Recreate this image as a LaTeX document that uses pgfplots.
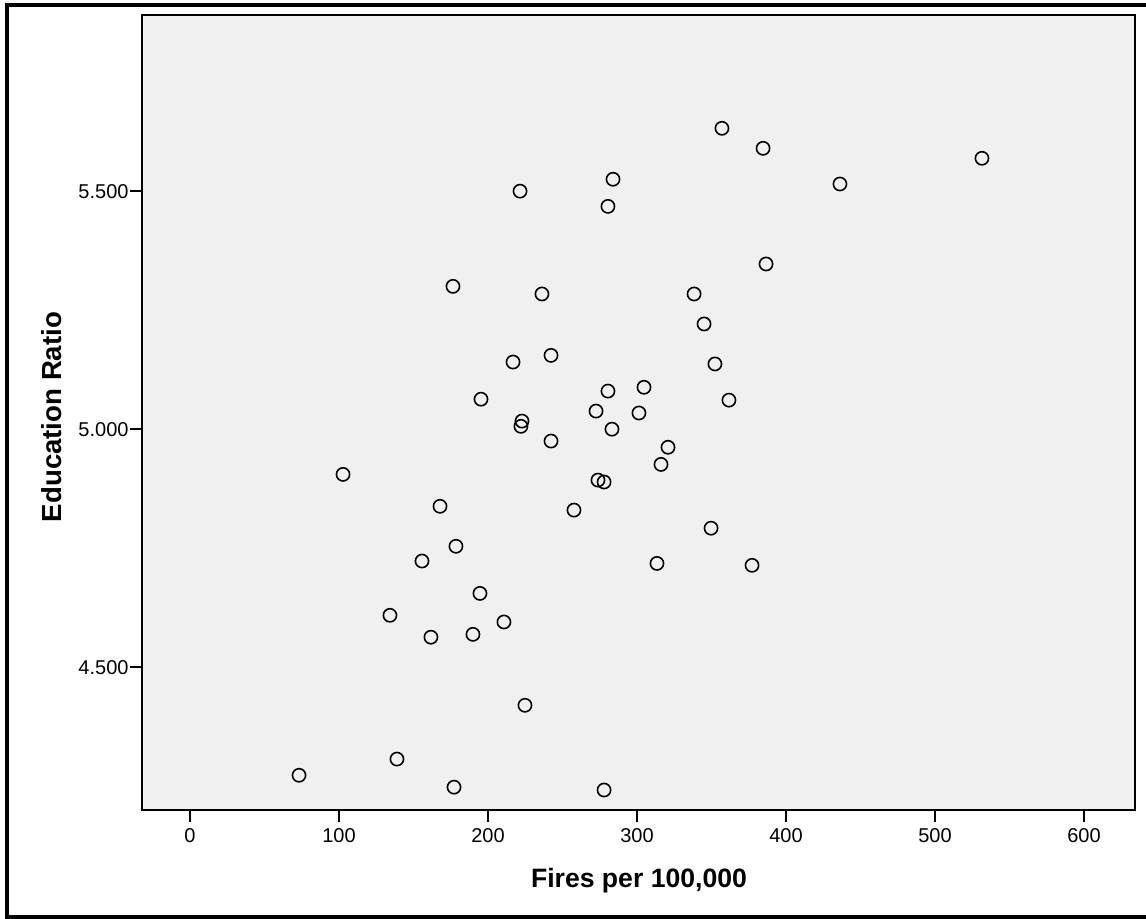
\documentclass[border=0pt]{standalone}
\usepackage{fontspec}
\setmainfont{Liberation Sans}
\usepackage{pgfplots}
\pgfplotsset{compat=1.18}
\definecolor{bg}{RGB}{240,240,240}
\begin{document}
\begin{tikzpicture}
\useasboundingbox (0,0) rectangle (573pt,459pt);
\begin{axis}[
  at={(71pt,54pt)}, anchor=south west,
  scale only axis, width=496.5pt, height=397.5pt,
  xmin=-32.2, xmax=634.2, ymin=4.2, ymax=5.87,
  axis background/.style={fill=bg},
  axis line style={line width=1pt},
  xtick={0,100,...,600}, ytick={4.5,5.0,5.5},
  tick align=outside, major tick length=6pt,
  xtick pos=left, ytick pos=left,
  xtick style={draw=black, line width=1.2pt},
  ytick style={draw=black, line width=1.2pt},
  /pgf/number format/assume math mode=true,
  yticklabel={\pgfmathprintnumber[fixed,fixed zerofill,precision=3]{\tick}},
  xticklabel={\pgfmathprintnumber[fixed,precision=0,1000 sep={}]{\tick}},
  ticklabel style={font=\fontsize{10}{12}\selectfont},
  xticklabel style={yshift=0.5pt},
  yticklabel style={xshift=2.8pt},
]
\addplot[only marks, mark=o, mark size=3.3pt, black, mark options={line width=0.8pt}] coordinates {
(357.0,5.632) (384.6,5.590) (531.5,5.569) (436.2,5.515) (283.9,5.525)
(221.5,5.500) (280.5,5.468) (386.6,5.347) (176.5,5.300) (236.2,5.284)
(338.3,5.284) (345.0,5.221) (242.3,5.155) (216.8,5.141) (352.3,5.137)
(280.5,5.080) (304.7,5.088) (195.3,5.063) (361.7,5.061) (272.5,5.038)
(301.3,5.034) (222.8,5.017) (222.1,5.006) (283.2,5.000) (242.3,4.975)
(320.8,4.962) (316.1,4.926) (102.7,4.905) (273.8,4.893) (277.9,4.889)
(167.8,4.838) (257.7,4.830) (349.7,4.792) (178.5,4.754) (155.7,4.723)
(313.4,4.718) (377.2,4.714) (194.6,4.655) (134.2,4.609) (210.7,4.595)
(189.9,4.569) (161.7,4.563) (224.8,4.420) (138.9,4.307) (73.2,4.273)
(177.2,4.248) (277.9,4.242)
};
\end{axis}
\node[anchor=base, font=\fontsize{13.3}{16}\selectfont\bfseries] at (319.5pt,15.5pt) {Fires per 100,000};
\node[anchor=base, rotate=90, font=\fontsize{13.8}{16}\selectfont\bfseries] at (30.8pt,250.5pt) {Education Ratio};
\draw[line width=2pt, line cap=rect] (575pt,456.5pt) -- (3.5pt,456.5pt) -- (3.5pt,0.5pt) -- (575pt,0.5pt);
\end{tikzpicture}
\end{document}
